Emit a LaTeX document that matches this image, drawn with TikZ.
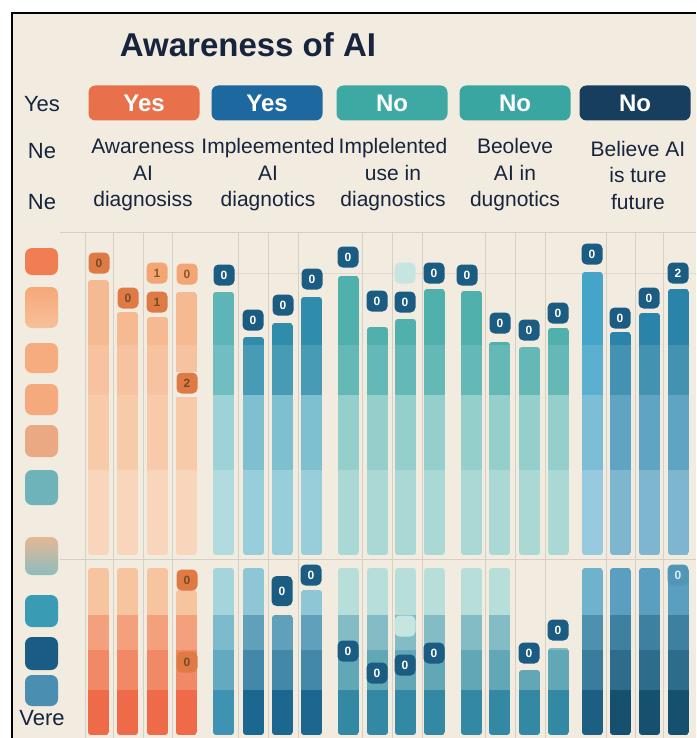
\documentclass[tikz,border=0pt]{standalone}
\usepackage{fontspec}
\setmainfont{Liberation Sans}
\usepackage{tikz}

\definecolor{paper}{HTML}{F2EBDF}
\definecolor{ink}{HTML}{16243D}
\definecolor{gridc}{HTML}{D6CFC5}
\definecolor{bdg}{HTML}{1B5C83}
\definecolor{obdg}{HTML}{E07A45}
\definecolor{olbdg}{HTML}{F3A673}
% bar colours: 1,2 upper part, 3,4 lower part
\definecolor{o1}{HTML}{F6BA92}\definecolor{o2}{HTML}{F7CBAA}
\definecolor{o3}{HTML}{F7C4A0}\definecolor{o4}{HTML}{EE6A48}
\definecolor{t1}{HTML}{5DB5B8}\definecolor{t2}{HTML}{9DD2D6}
\definecolor{t3}{HTML}{A5D5DC}\definecolor{t4}{HTML}{3F93B2}
\definecolor{b1}{HTML}{2F8DAB}\definecolor{b2}{HTML}{7FC0D0}
\definecolor{b3}{HTML}{8EC6D6}\definecolor{b4}{HTML}{1C6790}
\definecolor{q1}{HTML}{4FB0AC}\definecolor{q2}{HTML}{95CFCB}
\definecolor{q3}{HTML}{B8DEDA}\definecolor{q4}{HTML}{3389A3}
\definecolor{s1}{HTML}{45A5C8}\definecolor{s2}{HTML}{7DBDD6}
\definecolor{s3}{HTML}{6FB2CC}\definecolor{s4}{HTML}{1D5F82}
\definecolor{d1}{HTML}{2A83A8}\definecolor{d2}{HTML}{5FA4C3}
\definecolor{d3}{HTML}{5A9FC0}\definecolor{d4}{HTML}{15506F}

\begin{document}
\begin{tikzpicture}[x=1pt,y=-1pt,
  pill/.style={rounded corners=7pt, minimum width=111pt, minimum height=35pt, inner sep=0pt,
    text=white, font=\fontsize{24}{24}\selectfont\bfseries},
  head/.style={text=ink, align=center, font=\fontsize{21}{26.5}\selectfont},
  side/.style={text=ink, font=\fontsize{22}{22}\selectfont},
  key/.style={rounded corners=7pt, minimum width=33pt, inner sep=0pt},
  badge/.style={rounded corners=5pt, minimum width=21pt, minimum height=21pt, inner sep=0pt,
    fill=bdg, text=white, font=\fontsize{12}{12}\selectfont\bfseries},
  obadge/.style={badge, fill=obdg, text=brown!60!black},
  olbadge/.style={badge, fill=olbdg, text=brown!70!black},
  blob/.style={badge, fill=q3!80!white},
  fbadge/.style={badge, fill=d2!80!bdg, text=white!80!d2},
  grid/.style={draw=gridc, line width=0.8pt}
]
\useasboundingbox (0,0) rectangle (696,738);
\fill[white] (0,0) rectangle (696,738);
\fill[paper] (12,13) rectangle (696,738);
\draw[line width=1.2pt] (12,738) -- (12,13) -- (696,13);

% title and headers
\node[text=ink, font=\fontsize{33}{33}\selectfont\bfseries] (title) at (248,45) {Awareness of AI};
\node[side] (s1) at (42,104) {Yes};
\node[side] (s2) at (42,151) {Ne};
\node[side] (s3) at (42,202) {Ne};
\node[pill, fill={rgb,255:red,232;green,112;blue,74}] (p1) at (144,103) {Yes};
\node[pill, fill={rgb,255:red,30;green,104;blue,160}] (p2) at (267,103) {Yes};
\node[pill, fill={rgb,255:red,62;green,169;blue,162}] (p3) at (392,103) {No};
\node[pill, fill={rgb,255:red,58;green,166;blue,162}] (p4) at (515,103) {No};
\node[pill, fill={rgb,255:red,23;green,62;blue,92}] (p5) at (635,103) {No};
\node[head] (h1) at (143,175) {Awareness\\AI\\diagnosiss};
\node[head] (h2) at (268,175) {Impleemented\\AI\\diagnotics};
\node[head] (h3) at (393,175) {Implelented\\use in\\diagnostics};
\node[head] (h4) at (515,175) {Beoleve\\AI in\\dugnotics};
\node[head] (h5) at (638,175) {Believe AI\\is ture\\future};

% grid
\foreach \gx in {85,113,143,172,238,268,298,362,392,422,485,515,545,606,635,663}
  \draw[grid] (\gx,232) -- (\gx,738);
\draw[grid] (60,232) -- (696,232);
\draw[grid] (60,559) -- (696,559);
\draw[grid, draw opacity=.6] (213,273) -- (696,273);

% legend keys
\node[key, fill={rgb,255:red,240;green,126;blue,82}, minimum height=27pt] (k1) at (41.5,261.5) {};
\node[key, top color={rgb,255:red,246;green,168;blue,120}, bottom color={rgb,255:red,247;green,192;blue,154}, minimum height=41pt] (k2) at (41.5,307.5) {};
\node[key, fill={rgb,255:red,245;green,173;blue,128}, minimum height=30pt] (k3) at (41.5,358) {};
\node[key, fill={rgb,255:red,244;green,170;blue,124}, minimum height=31pt] (k4) at (41.5,399.5) {};
\node[key, fill={rgb,255:red,234;green,169;blue,130}, minimum height=32pt] (k5) at (41.5,441) {};
\node[key, fill={rgb,255:red,110;green,178;blue,186}, minimum height=35pt] (k6) at (41.5,487.5) {};
\node[key, top color={rgb,255:red,228;green,184;blue,149}, bottom color={rgb,255:red,142;green,189;blue,189}, minimum height=38pt] (k7) at (41.5,556) {};
\node[key, fill={rgb,255:red,58;green,156;blue,180}, minimum height=32pt] (k8) at (41.5,611) {};
\node[key, fill={rgb,255:red,27;green,92;blue,132}, minimum height=33pt] (k9) at (41.5,653.5) {};
\node[key, fill={rgb,255:red,74;green,142;blue,177}, minimum height=31pt] (k10) at (41.5,690.5) {};
\node[side] (vere) at (42,718) {Vere};

% bars: left x / top of upper bar / top of lower bar / colour set
\foreach \bx/\by/\lt/\cc in {88/280/568/o,117/312/568/o,147/317/568/o,176/292/590/o,
    213/292/568/t,243/337/568/b,272/323/615/b,301/297/590/b,
    338/276/568/q,367/327/568/q,395/319/568/q,424/289/568/q,
    461/291/568/q,489/342/568/q,519/347/670/q,548/328/648/q,
    582/272/568/s,610/332/568/d,639/313/568/d,668/289/568/d}{
  \begin{scope}
    \clip[rounded corners=3pt] (\bx,\by) rectangle (\bx+21,555);
    \fill[\cc1] (\bx,\by) rectangle (\bx+21,345);
    \fill[\cc1!88!white] (\bx,345) rectangle (\bx+21,395);
    \fill[\cc2] (\bx,395) rectangle (\bx+21,470);
    \fill[\cc2!80!white] (\bx,470) rectangle (\bx+21,555);
  \end{scope}
  \begin{scope}
    \clip[rounded corners=3pt] (\bx,\lt) rectangle (\bx+21,735);
    \fill[\cc3] (\bx,\lt) rectangle (\bx+21,615);
    \fill[\cc3!60!\cc4] (\bx,615) rectangle (\bx+21,650);
    \fill[\cc3!35!\cc4] (\bx,650) rectangle (\bx+21,690);
    \fill[\cc4] (\bx,690) rectangle (\bx+21,735);
  \end{scope}
}
\fill[paper] (176,372) rectangle (197,397);

% value badges
\foreach \x/\y/\t/\s [count=\j] in {99/263/0/obadge,128/298/0/obadge,157/273/1/olbadge,
    157/302/1/obadge,187/274/0/olbadge,187/383/2/obadge,
    224/275/0/badge,253/320/0/badge,283/305/0/badge,312/279/0/badge,
    348/257/0/badge,377/301/0/badge,405/273//blob,405/302/0/badge,
    434/273/0/badge,467/275/0/badge,500/323/0/badge,529/330/0/badge,
    558/313/0/badge,592/254/0/badge,620/318/0/badge,649/298/0/badge,
    678/273/2/badge,
    187/580/0/obadge,187/662/0/obadge,311/575/0/badge,348/651/0/badge,
    377/673/0/badge,405/665/0/badge,405/626//blob,434/653/0/badge,
    529/653/0/badge,558/630/0/badge,678/575/0/fbadge}
  \node[\s] (bg\j) at (\x,\y) {\t};
\node[badge, minimum height=30pt] (bg7lo) at (282,591) {0};
\end{tikzpicture}
\end{document}
